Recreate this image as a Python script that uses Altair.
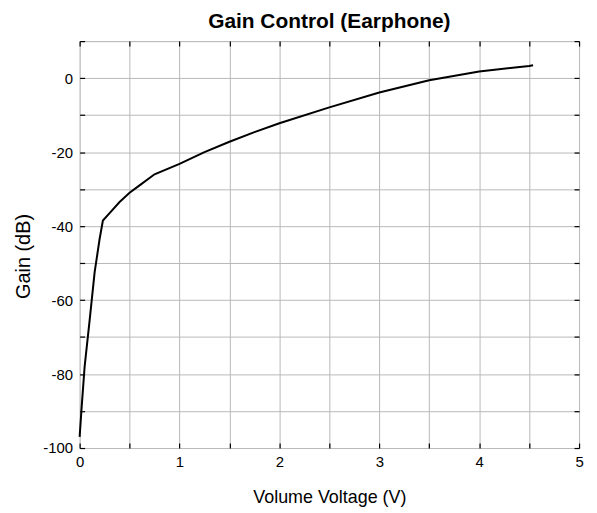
import altair as alt
import pandas as pd

# Curve
voltage = [0.0, 0.02, 0.05, 0.1, 0.15, 0.2, 0.233, 0.3, 0.4, 0.5, 0.6, 0.75, 1.0, 1.25, 1.5,
           1.75, 2.0, 2.5, 3.0, 3.5, 4.0, 4.5, 4.54]
gain_db = [-97, -89, -78, -65.5, -52.5, -43.5, -38.5, -36.5, -33.5, -31, -29, -26, -23.2, -20,
           -17.2, -14.6, -12.2, -7.9, -3.9, -0.6, 1.8, 3.3, 3.5]

# Axis grid / tick values
x_ticks = [0, 0.5, 1, 1.5, 2, 2.5, 3, 3.5, 4, 4.5, 5]
y_ticks = [-100, -90, -80, -70, -60, -50, -40, -30, -20, -10, 0, 10]

df = pd.DataFrame({"v": voltage, "g": gain_db})

FONT = "Liberation Sans"
xs = alt.Scale(domain=[0, 5], nice=False, zero=False)
ys = alt.Scale(domain=[-100, 10], nice=False, zero=False)

base = alt.Chart(df)

main = base.mark_line(color="black", strokeWidth=2).encode(
    x=alt.X("v:Q", scale=xs, title="Volume Voltage (V)",
            axis=alt.Axis(orient="bottom", values=x_ticks,
                          labelExpr="datum.value % 1 == 0 ? toString(datum.value) : ''",
                          labelFlush=False, labelOverlap=False,
                          grid=True, gridColor="#b8b8b8", gridWidth=1,
                          ticks=False, domain=False, labelFont=FONT, labelFontSize=15,
                          labelColor="black", labelPadding=7, titleFont=FONT,
                          titleFontSize=18, titleFontWeight="normal", titleColor="black",
                          titlePadding=19)),
    y=alt.Y("g:Q", scale=ys, title="Gain (dB)",
            axis=alt.Axis(orient="left", values=y_ticks,
                          labelExpr="datum.value % 20 == 0 ? toString(datum.value) : ''",
                          labelFlush=False, labelOverlap=False,
                          grid=True, gridColor="#b8b8b8", gridWidth=1,
                          ticks=False, domain=False, labelFont=FONT, labelFontSize=15,
                          labelColor="black", labelPadding=7, titleFont=FONT,
                          titleFontSize=20, titleFontWeight="normal", titleColor="black",
                          titlePadding=9, titleY=216)),
)

ticks_a = base.mark_line(opacity=0).encode(
    x=alt.X("v:Q", scale=xs, title=None,
            axis=alt.Axis(orient="bottom", offset=-5, values=x_ticks, labels=False,
                          ticks=True, tickSize=5, tickColor="black", tickWidth=1.2,
                          domain=False, grid=False)),
    y=alt.Y("g:Q", scale=ys, title=None,
            axis=alt.Axis(orient="left", offset=-5, values=y_ticks, labels=False,
                          ticks=True, tickSize=5, tickColor="black", tickWidth=1.2,
                          domain=False, grid=False)),
)

ticks_b = base.mark_line(opacity=0).encode(
    x=alt.X("v:Q", scale=xs, title=None,
            axis=alt.Axis(orient="top", offset=-5, values=x_ticks, labels=False,
                          ticks=True, tickSize=5, tickColor="black", tickWidth=1.2,
                          domain=False, grid=False)),
    y=alt.Y("g:Q", scale=ys, title=None,
            axis=alt.Axis(orient="right", offset=-5, values=y_ticks, labels=False,
                          ticks=True, tickSize=5, tickColor="black", tickWidth=1.2,
                          domain=False, grid=False)),
)

chart = alt.layer(main, ticks_a, ticks_b).resolve_axis(
    x="independent", y="independent"
).properties(
    width=502, height=409,
    autosize="none",
    padding={"left": 72, "top": 32, "right": 10, "bottom": 60},
    title=alt.TitleParams("Gain Control (Earphone)", font=FONT, fontSize=21,
                          fontWeight="bold", color="black", anchor="middle", offset=2),
).configure_view(stroke="black", strokeWidth=1.5).configure(background="white")

chart.save("out.html", embed_options={"renderer": "svg", "actions": False})
